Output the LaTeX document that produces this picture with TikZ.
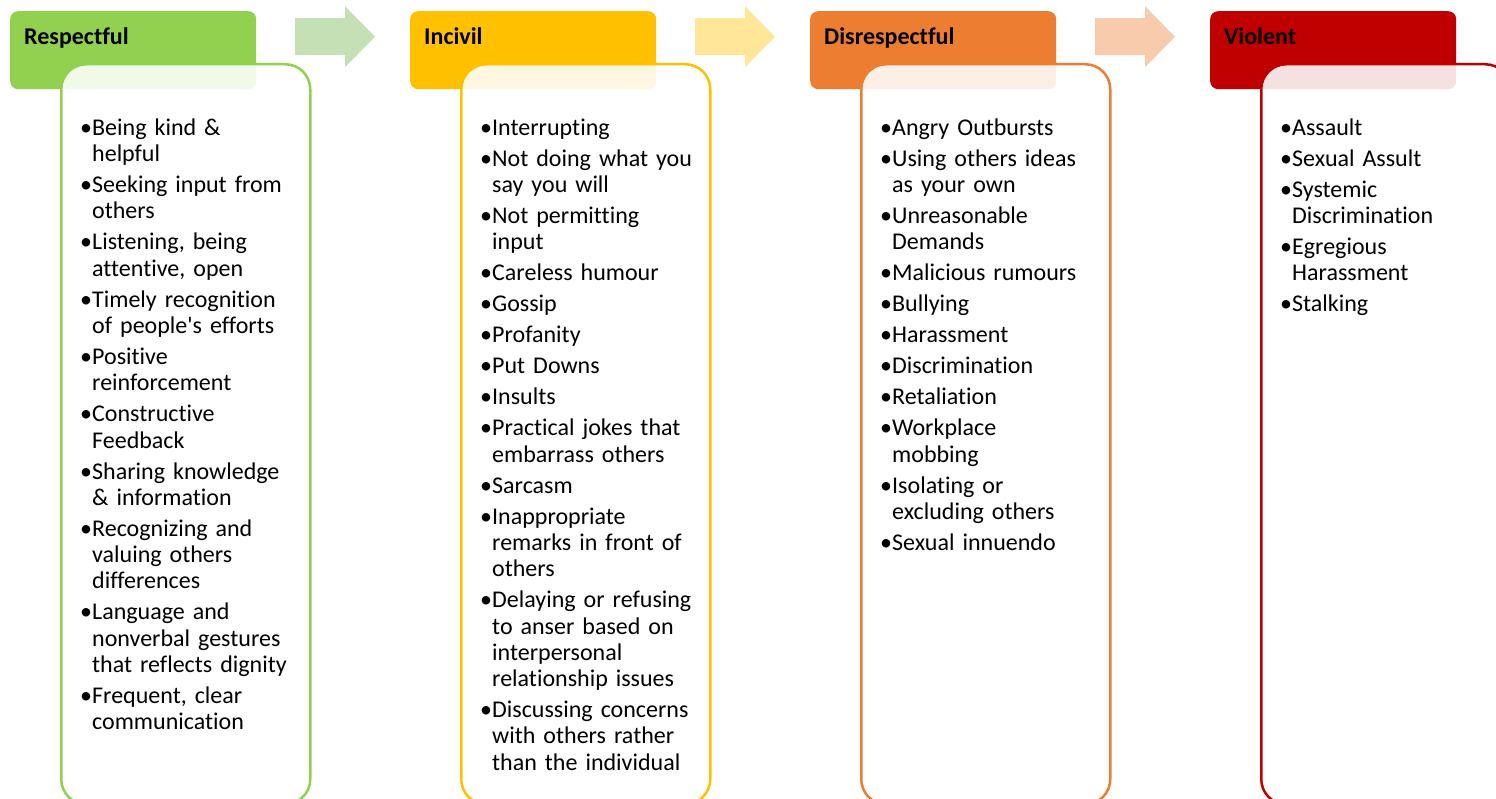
\documentclass[tikz,border=0pt]{standalone}
\usepackage{fontspec}
\setmainfont[Ligatures={NoCommon}]{Carlito}
\usetikzlibrary{positioning}

\definecolor{respgreen}{HTML}{92D050}
\definecolor{incivyellow}{HTML}{FFC000}
\definecolor{disorange}{HTML}{ED7D31}
\definecolor{violred}{HTML}{C00000}
\definecolor{greenarrow}{HTML}{C5E0B4}
\definecolor{yellowarrow}{HTML}{FFE699}
\definecolor{orangearrow}{HTML}{F8CBAD}

\newlength{\bulletw}
\setlength{\bulletw}{12pt}
\newcommand{\bitem}[1]{\hangindent=\bulletw\hangafter=1\noindent\makebox[\bulletw][l]{\strut\textbullet}#1\par\vspace{4.7pt}}

\begin{document}
\begin{tikzpicture}[x=1pt,y=-1pt,
  header/.style={rectangle,rounded corners=8pt,minimum width=246pt,minimum height=78pt,anchor=north west,inner sep=0pt},
  listbox/.style={draw,line width=2.5pt,fill=white,fill opacity=0.88,rounded corners=25pt,minimum width=249pt,minimum height=740pt,anchor=north west,inner sep=0pt},
  title/.style={anchor=base west,inner sep=0pt,font=\fontsize{24}{26}\selectfont\bfseries},
  items/.style={anchor=north west,inner sep=0pt,text width=300pt,font=\fontsize{24}{26.3}\selectfont}]
  \useasboundingbox (0,0) rectangle (1496,799);
  \clip (0,0) rectangle (1496,799);

  % -=-=-=-=- RESPECTFUL -=-=-=-=-
  \node[header,fill=respgreen] (resphead) at (10,11) {};
  \node[listbox,draw=respgreen] (respbox) at (60,63) {};
  \node[title] (resptitle) at (24,45) {Respectful};
  \node[items] (resplist) at (80,116.6) {%
    \bitem{Being kind \& \newline helpful}
    \bitem{Seeking input from \newline others}
    \bitem{Listening, being \newline attentive, open}
    \bitem{Timely recognition \newline of people\textquotesingle s efforts}
    \bitem{Positive \newline reinforcement}
    \bitem{Constructive \newline Feedback}
    \bitem{Sharing knowledge \newline \& information}
    \bitem{Recognizing and \newline valuing others \newline differences}
    \bitem{Language and \newline nonverbal gestures \newline that reflects dignity}
    \bitem{Frequent, clear \newline communication}};
  \coordinate (arrow1) at (295,36.7);
  \fill[greenarrow] (arrow1) ++(0,-18.5) -- ++(50,0) -- ++(0,-12) -- ++(30,30.5) -- ++(-30,30.5) -- ++(0,-12) -- ++(-50,0) -- cycle;

  % -=-=-=-=- INCIVIL -=-=-=-=-
  \node[header,fill=incivyellow] (incivhead) at (410,11) {};
  \node[listbox,draw=incivyellow] (incivbox) at (460,63) {};
  \node[title] (incivtitle) at (424,45) {Incivil};
  \node[items] (incivlist) at (480,116.6) {%
    \bitem{Interrupting}
    \bitem{Not doing what you \newline say you will}
    \bitem{Not permitting \newline input}
    \bitem{Careless humour}
    \bitem{Gossip}
    \bitem{Profanity}
    \bitem{Put Downs}
    \bitem{Insults}
    \bitem{Practical jokes that \newline embarrass others}
    \bitem{Sarcasm}
    \bitem{Inappropriate \newline remarks in front of \newline others}
    \bitem{Delaying or refusing \newline to anser based on \newline interpersonal \newline relationship issues}
    \bitem{Discussing concerns \newline with others rather \newline than the individual}};
  \coordinate (arrow2) at (695,36.7);
  \fill[yellowarrow] (arrow2) ++(0,-18.5) -- ++(50,0) -- ++(0,-12) -- ++(30,30.5) -- ++(-30,30.5) -- ++(0,-12) -- ++(-50,0) -- cycle;

  % -=-=-=-=- DISRESPECTFUL -=-=-=-=-
  \node[header,fill=disorange] (dishead) at (810,11) {};
  \node[listbox,draw=disorange] (disbox) at (860,63) {};
  \node[title] (distitle) at (824,45) {Disrespectful};
  \node[items] (dislist) at (880,116.6) {%
    \bitem{Angry Outbursts}
    \bitem{Using others ideas \newline as your own}
    \bitem{Unreasonable \newline Demands}
    \bitem{Malicious rumours}
    \bitem{Bullying}
    \bitem{Harassment}
    \bitem{Discrimination}
    \bitem{Retaliation}
    \bitem{Workplace \newline mobbing}
    \bitem{Isolating or \newline excluding others}
    \bitem{Sexual innuendo}};
  \coordinate (arrow3) at (1095,36.7);
  \fill[orangearrow] (arrow3) ++(0,-18.5) -- ++(50,0) -- ++(0,-12) -- ++(30,30.5) -- ++(-30,30.5) -- ++(0,-12) -- ++(-50,0) -- cycle;

  % -=-=-=-=- VIOLENT -=-=-=-=-
  \node[header,fill=violred] (violhead) at (1210,11) {};
  \node[listbox,draw=violred] (violbox) at (1260,63) {};
  \node[title] (violtitle) at (1224,45) {Violent};
  \node[items] (viollist) at (1280,116.6) {%
    \bitem{Assault}
    \bitem{Sexual Assult}
    \bitem{Systemic \newline Discrimination}
    \bitem{Egregious \newline Harassment}
    \bitem{Stalking}};
\end{tikzpicture}
\end{document}
